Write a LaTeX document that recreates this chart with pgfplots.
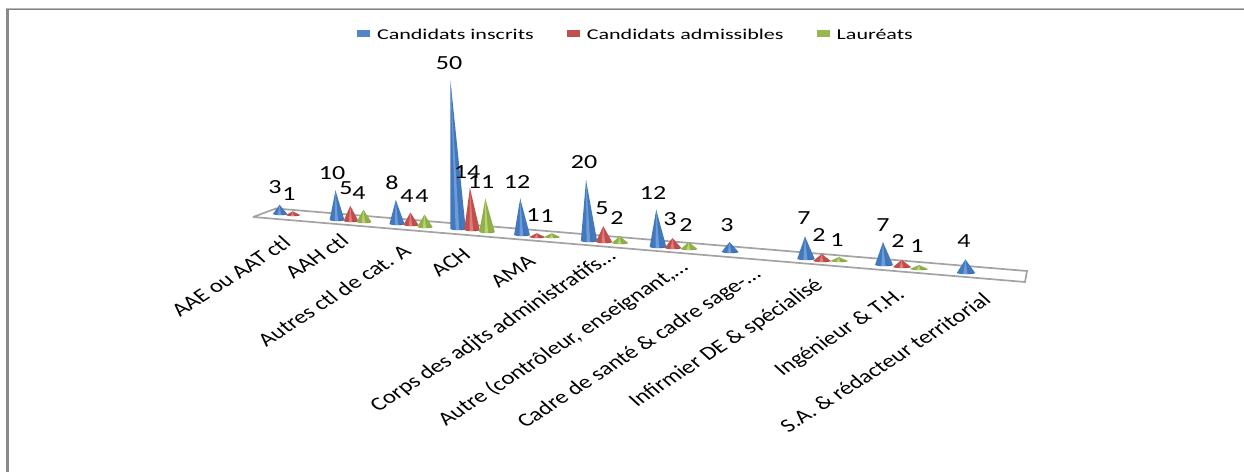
\documentclass[border=0pt]{standalone}
\usepackage{pgfplots}
\pgfplotsset{compat=1.18}
\usepackage{fontspec}
\setmainfont{Carlito}
\definecolor{blueL}{HTML}{4478BC}\definecolor{blueM}{HTML}{78ACE6}\definecolor{blueR}{HTML}{3A6AA8}
\definecolor{redL}{HTML}{C0504D}\definecolor{redM}{HTML}{EE8A88}\definecolor{redR}{HTML}{B04340}
\definecolor{greenL}{HTML}{8FB04A}\definecolor{greenM}{HTML}{C6E07A}\definecolor{greenR}{HTML}{86A443}

% One cone: series, base centre x, floor y, value, label position x and y.
\newcommand{\cone}[6]{%
  \pgfmathsetmacro{\hw}{7.2+(#2-280)*0.003}%
  \pgfmathsetmacro{\kk}{2.85+(#2-280)*0.0005}%
  \pgfmathsetmacro{\ax}{#2-0.15*#4}%
  \pgfmathsetmacro{\ay}{#3-\kk*#4-0.8}%
  \pgfmathsetmacro{\xa}{#2-\hw}\pgfmathsetmacro{\xb}{#2+\hw}%
  \pgfmathsetmacro{\xc}{#2+0.7*\hw}\pgfmathsetmacro{\xd}{#2-0.7*\hw}%
  \pgfmathsetmacro{\xe}{#2+0.38*\hw}\pgfmathsetmacro{\xf}{#2-0.38*\hw}%
  \pgfmathsetmacro{\yc}{#3+0.8}\pgfmathsetmacro{\ye}{#3+1.1}\pgfmathsetmacro{\yg}{#3+1.2}%
  \pgfmathsetmacro{\hl}{#2-0.3*\hw}\pgfmathsetmacro{\hr}{#2+0.15*\hw}%
  \addplot[forget plot,draw=none,fill=#1L]
    coordinates {(\xa,#3)(\ax,\ay)(\xb,#3)(\xc,\yc)(\xe,\ye)(#2,\yg)(\xf,\ye)(\xd,\yc)(\xa,#3)};
  % darker right flank and lighter middle band of the cone
  \addplot[forget plot,draw=none,fill=#1R]
    coordinates {(\ax,\ay)(\xe,#3)(\xb,#3)(\xc,\yc)(\xe,\ye)(\ax,\ay)};
  \addplot[forget plot,draw=none,fill=#1M,fill opacity=0.75]
    coordinates {(\ax,\ay)(\hl,\yg)(\hr,\yg)(\ax,\ay)};
  \node[font=\fontsize{20}{20}\selectfont] at (axis cs:#5,#6) {\scalebox{1.3}[1]{#4}};%
}
% One rotated category name, placed by the right end of its text.
\newcommand{\catlabel}[3]{%
  \node[anchor=east,font=\fontsize{19}{19}\selectfont,inner sep=0pt,transform shape,
        cm={0.996,0.643,-0.836,0.766,(0,0)}] at (axis cs:#1,#2) {#3};%
}

\begin{document}
\begin{tikzpicture}[x=1pt,y=1pt]
\path[use as bounding box] (0,0) rectangle (1244,472);
\begin{axis}[
  at={(0,0)},anchor=south west,
  width=1244pt,height=472pt,scale only axis,
  xmin=0,xmax=1244,ymin=0,ymax=472,y dir=reverse,
  hide axis,clip=false,
  legend style={draw=none,fill=none,at={(axis cs:357,35.5)},anchor=west,
    legend columns=3,font=\fontsize{15}{15}\selectfont,inner sep=0pt,outer sep=0pt,
    nodes={inner sep=0pt},
    /tikz/every even column/.append style={column sep=33pt}},
  legend cell align=left,
  legend image code/.code={\fill[#1] (0pt,-1.5pt) rectangle (13pt,5.5pt);},
]
% Chart frame
\addplot[forget plot,draw=black!46,line width=3pt] coordinates {(7.5,472)(7.5,9.5)};
\addplot[forget plot,draw=black!28,line width=1pt] coordinates {(6,8.5)(1244,8.5)};
\addplot[forget plot,draw=black!50,line width=1.2pt] coordinates {(6,9.6)(1244,9.6)};
% Floor of the plot
\addplot[forget plot,draw=black!36,line width=1.7pt,fill=white]
  coordinates {(253,217)(276,208.5)(1027,271)(1025,282)(253,217)};

\addlegendimage{draw=none,fill=blueL!75!blueM}\addlegendentry{\hspace{7pt}\scalebox{1.47}[1]{Candidats inscrits}}
\addlegendimage{draw=none,fill=redL}\addlegendentry{\hspace{7pt}\scalebox{1.47}[1]{Candidats admissibles}}
\addlegendimage{draw=none,fill=greenL!85!greenM}\addlegendentry{\hspace{7pt}\scalebox{1.47}[1]{Lauréats}}

% series, x, floor, value, label x, label y
\cone{blue}{280}{214}{3}{275}{187}
\cone{red}{293}{215}{1}{289}{194}

\cone{blue}{337}{220}{10}{332}{173}
\cone{red}{351}{221}{5}{346}{188}
\cone{green}{364}{222}{4}{359}{193}

\cone{blue}{397}{224}{8}{392}{183}
\cone{red}{411}{225}{4}{407}{196}
\cone{green}{425}{227}{4}{422}{196}

\cone{blue}{458}{229}{50}{449}{63}
\cone{red}{472}{230}{14}{467}{172}
\cone{green}{487}{232}{11}{481}{182}

\cone{blue}{522}{235}{12}{517}{182}
\cone{red}{537}{237}{1}{533}{215}
\cone{green}{552}{237}{1}{547}{216}

\cone{blue}{589}{241}{20}{584}{162}
\cone{red}{604}{242}{5}{602}{208}
\cone{green}{620}{243}{2}{617}{218}

\cone{blue}{658}{247}{12}{653}{193}
\cone{red}{673}{248}{3}{670}{219}
\cone{green}{689}{249}{2}{686}{225}

\cone{blue}{730}{252}{3}{727}{225}

\cone{blue}{806}{259}{7}{804}{218}
\cone{red}{822}{261}{2}{819}{235}
\cone{green}{839}{261}{1}{837}{240}

\cone{blue}{884}{265}{7}{883}{225}
\cone{red}{902}{267}{2}{898}{241}
\cone{green}{919}{269}{1}{917}{246}

\cone{blue}{966}{273}{4}{964}{241}

\catlabel{287}{240}{AAE ou AAT ctl}
\catlabel{345}{238}{AAH ctl}
\catlabel{407}{248}{Autres ctl de cat. A}
\catlabel{467}{252}{ACH}
\catlabel{532}{259}{AMA}
\catlabel{613}{254}{Corps des adjts administratifs…}
\catlabel{685}{265}{Autre (contrôleur, enseignant,…}
\catlabel{758}{272}{Cadre de santé \& cadre sage-…}
\catlabel{820}{283}{Infirmier DE \& spécialisé}
\catlabel{902}{293}{Ingénieur \& T.H.}
\catlabel{987}{297}{S.A. \& rédacteur territorial}
\end{axis}
\end{tikzpicture}
\end{document}
